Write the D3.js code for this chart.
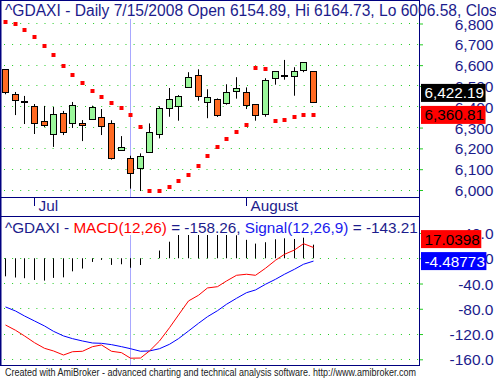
<!DOCTYPE html>
<html><head><meta charset="utf-8">
<script src="https://cdn.jsdelivr.net/npm/d3@7"></script>
<style>html,body{margin:0;padding:0;background:#fff;}svg{display:block;}</style>
</head><body><svg id="c" width="496" height="379"></svg>
<script>
// ---- data ----
const symbol = "^GDAXI";
const selectedDate = "7/15/2008";
const opens  = [6580,6460,6430,6404,6332,6270,6369,6319,6320,6338,6351,6322,6189,6154.89,6104,6181,6268,6393,6402,6493,6551,6421,6436,6415,6474,6469,6412,6362,6535,6551,6546,6575,6570];
const highs  = [6580,6471,6452,6413,6404,6399,6380,6423,6336,6405,6389,6335,6259,6164.73,6176,6320,6402,6490,6456,6566,6580,6484,6440,6508,6542,6493,6412,6537,6570,6625,6590,6614,6570];
const lows   = [6460,6360,6317,6269,6303,6207,6264,6298,6235,6338,6264,6146,6189,6006.58,5995,6181,6248,6352,6333,6493,6429,6345,6351,6410,6439,6389,6333,6352,6506,6530,6453,6566,6422.19];
const closes = [6470,6429,6430,6323,6314,6364,6280,6407,6309,6397,6309,6155,6205,6084.11,6162,6277,6393,6436,6450,6542,6450,6445,6357,6469,6489,6405,6357,6527,6570,6551,6570,6614,6422.19];
const sar    = [6806,6798,6767,6734,6690,6647,6596,6551,6513,6476,6445,6417,6393,6359,6301,5994,5994,6013,6042,6071,6114,6162,6205,6244,6277,6311,6585,6580,6330,6335,6349,6359,6360.81];
const macd   = [-105.7,-114,-123,-133.7,-142.6,-146.8,-153.2,-148,-147.3,-140,-137.3,-147.3,-149.5,-158.26,-158,-146.8,-131,-110,-89.8,-67.6,-58.6,-47,-45,-36,-27,-25.3,-27,-15.8,-3.2,6.3,13.1,23.1,17.0398];
const signal = [-77.1,-83.5,-91.4,-99.3,-107.2,-115.7,-123,-127.3,-131,-134.2,-134.7,-136.8,-140,-143.21,-147.3,-146.8,-143.2,-136.2,-127.3,-115.2,-103,-92.5,-83,-72.9,-63.4,-54.5,-50.2,-41.2,-33.3,-25.3,-17.4,-9.5,-4.48773];
const priceTicks = [6000,6100,6200,6300,6400,6500,6600,6700,6800];
const macdTicks = [40,0,-40,-80,-120,-160];
const monthLabels = ["Jul","August"];
const monthBars = [3,25];
const selectedBar = 13;
const footerText = "Created with AmiBroker - advanced charting and technical analysis software. http://www.amibroker.com";

// ---- drawing ----
const FONT = '"Liberation Sans", Arial, sans-serif';
const NAVY = "#1c1c8c";
const GRID = "#22cc22";
const svg = d3.select("#c").style("font-family", FONT);
svg.append("rect").attr("width",496).attr("height",379).attr("fill","#fff");
const defs = svg.append("defs");
defs.append("clipPath").attr("id","clipM").append("rect").attr("x",1).attr("y",235).attr("width",418).attr("height",130);
defs.append("clipPath").attr("id","clipP").append("rect").attr("x",1).attr("y",19).attr("width",418).attr("height",178);

const n = closes.length;
const x = d3.scaleLinear().domain([0, n-1]).range([5.5, 313.5]);
const cx = i => Math.round(x(i) - 0.5) + 0.5;
const yP = d3.scaleLinear().domain([6000, 6800]).range([190, 23.5]);
const yM = d3.scaleLinear().domain([-160, 40]).range([359.3, 233]);
const crisp = v => Math.round(v - 0.5) + 0.5;

// gridlines
const g = svg.append("g");
g.selectAll(".gp").data(priceTicks).join("line")
  .attr("x1",4).attr("x2",419).attr("y1",d=>crisp(yP(d))).attr("y2",d=>crisp(yP(d)))
  .attr("stroke",GRID).attr("stroke-dasharray","1,7.1");
g.selectAll(".gm").data(macdTicks.filter(d=>yM(d)>236)).join("line")
  .attr("x1",4).attr("x2",419).attr("y1",d=>crisp(yM(d))).attr("y2",d=>crisp(yM(d)))
  .attr("stroke",GRID).attr("stroke-dasharray","1,7.1");

// selected bar line
const sx = cx(selectedBar);
svg.append("line").attr("x1",sx).attr("x2",sx).attr("y1",19).attr("y2",197).attr("stroke","#a8a8ff");
svg.append("line").attr("x1",sx).attr("x2",sx).attr("y1",235).attr("y2",365).attr("stroke","#a8a8ff");

const idx = d3.range(n);
const mg = svg.append("g").attr("clip-path","url(#clipM)");
// MACD histogram
mg.append("g").selectAll("line").data(idx).join("line")
  .attr("x1",i=>cx(i)).attr("x2",i=>cx(i))
  .attr("y1",yM(0)).attr("y2",i=>yM(macd[i]-signal[i]))
  .attr("stroke","#000").attr("stroke-width",1);

// MACD + signal lines
const lineM = d3.line().x(i=>cx(i)).y(i=>yM(macd[i]));
const lineS = d3.line().x(i=>cx(i)).y(i=>yM(signal[i]));
mg.append("path").attr("d",lineS(idx)).attr("fill","none").attr("stroke","#0000ff").attr("stroke-width",1);
mg.append("path").attr("d",lineM(idx)).attr("fill","none").attr("stroke","#ff0000").attr("stroke-width",1);

// candles
const cg = svg.append("g").attr("clip-path","url(#clipP)");
cg.selectAll(".wick").data(idx).join("line")
  .attr("x1",i=>cx(i)).attr("x2",i=>cx(i))
  .attr("y1",i=>yP(highs[i])).attr("y2",i=>yP(lows[i]))
  .attr("stroke","#000");
cg.selectAll(".body").data(idx).join("rect")
  .attr("x",i=>cx(i)-3).attr("width",6)
  .attr("y",i=>Math.round(yP(Math.max(opens[i],closes[i])))+0.5)
  .attr("height",i=>Math.max(Math.round(Math.abs(yP(opens[i])-yP(closes[i]))),1))
  .attr("fill",i=>closes[i]>opens[i]?"#9af79a":(closes[i]<opens[i]?"#ff6a22":"#000"))
  .attr("stroke","#000").attr("stroke-width",1);

// SAR
svg.append("g").selectAll("rect").data(idx).join("rect")
  .attr("x",i=>cx(i)-2).attr("y",i=>Math.round(yP(sar[i]))-2)
  .attr("width",4).attr("height",4).attr("fill","#ff0000");

// frame
const fr = svg.append("g").attr("stroke","#000080").attr("fill","none");
fr.append("line").attr("x1",0).attr("x2",420).attr("y1",0.5).attr("y2",0.5);
fr.append("line").attr("x1",0.75).attr("x2",0.75).attr("y1",0).attr("y2",366).attr("stroke-width",1.5);
fr.append("line").attr("x1",419.5).attr("x2",419.5).attr("y1",0).attr("y2",366);
fr.append("line").attr("x1",0).attr("x2",420).attr("y1",197.5).attr("y2",197.5);
fr.append("line").attr("x1",0).attr("x2",420).attr("y1",216.5).attr("y2",216.5);
fr.append("line").attr("x1",0).attr("x2",420).attr("y1",365.5).attr("y2",365.5);

// right axes
function styleAxis(sel){
  sel.select(".domain").remove();
  sel.selectAll(".tick line").attr("stroke",GRID).attr("stroke-width",1);
  sel.selectAll(".tick text").attr("x",73.5).attr("text-anchor","end")
    .attr("fill",NAVY).style("font-size","15.5px").style("font-family",FONT).attr("dy","0.36em");
}
svg.append("g").attr("transform","translate(420,0)")
  .call(d3.axisRight(yP).tickValues(priceTicks).tickFormat(d3.format(",")).tickSize(3))
  .call(styleAxis);
svg.append("g").attr("transform","translate(420,0)")
  .call(d3.axisRight(yM).tickValues(macdTicks).tickFormat(d=>d===0?"0":d.toFixed(1)).tickSize(3))
  .call(styleAxis);

// bottom month axis
const xa = svg.append("g").attr("transform","translate(0,197)")
  .call(d3.axisBottom(x).tickValues(monthBars).tickFormat((d,i)=>monthLabels[i]).tickSize(9).tickSizeOuter(0));
xa.select(".domain").remove();
xa.selectAll(".tick").attr("transform",d=>`translate(${cx(d)},0)`);
xa.selectAll(".tick line").attr("stroke","#000080");
xa.selectAll(".tick text").attr("x",4).attr("y",3).attr("dy","0.71em").attr("text-anchor","start")
  .attr("fill",NAVY).style("font-size","15.3px").style("font-family",FONT);

// value label boxes
function valueBoxes(items, scale){
  items.forEach(d=>d.y=scale(d.v));
  items.sort((a,b)=>b.y-a.y);
  const h=18, gap=4; let prevTop=Infinity;
  items.forEach(d=>{
    let c=Math.min(d.y, prevTop-gap-h/2);
    d.c=c; prevTop=c-h/2;
    const gg=svg.append("g");
    const r=gg.append("rect").attr("x",421).attr("y",c-h/2).attr("height",h).attr("fill",d.bg);
    const t=gg.append("text").attr("x",424.5).attr("y",c).attr("dy","0.36em").attr("fill",d.fg)
      .style("font-size","15.3px").style("font-family",FONT).text(d.label);
    r.attr("width",t.node().getComputedTextLength()+5);
  });
}
const last = n-1;
valueBoxes([
  {v:closes[last], label:d3.format(",.2f")(closes[last]), bg:"#000000", fg:"#ffffff"},
  {v:sar[last], label:d3.format(",.2f")(sar[last]), bg:"#ff0000", fg:"#000000"}
], yP);
const p6 = v => String(+v.toPrecision(6));
valueBoxes([
  {v:macd[last], label:p6(macd[last]), bg:"#ff0000", fg:"#000000"},
  {v:signal[last], label:p6(signal[last]), bg:"#0000ff", fg:"#ffffff"}
], yM);

// titles
svg.append("text").attr("x",5).attr("y",16).style("font-size","15.6px").attr("fill",NAVY)
  .text(`${symbol} - Daily ${selectedDate} Open ${opens[selectedBar].toFixed(2)}, Hi ${highs[selectedBar].toFixed(2)}, Lo ${lows[selectedBar].toFixed(2)}, Close ${closes[selectedBar].toFixed(2)}`);
const t2 = svg.append("text").attr("x",5).attr("y",232.5).style("font-size","15.3px");
t2.append("tspan").attr("fill",NAVY).text(`${symbol} - `);
t2.append("tspan").attr("fill","#ff0000").text("MACD(12,26)");
t2.append("tspan").attr("fill",NAVY).text(` = ${macd[selectedBar].toFixed(2)}, `);
t2.append("tspan").attr("fill","#1a1aee").text("Signal(12,26,9)");
t2.append("tspan").attr("fill",NAVY).text(` = ${signal[selectedBar].toFixed(2)}`);

// footer
svg.append("text").attr("x",5).attr("y",375.5).style("font-size","10px").attr("fill","#222")
  .attr("textLength",411).attr("lengthAdjust","spacingAndGlyphs").text(footerText);
</script></body></html>
